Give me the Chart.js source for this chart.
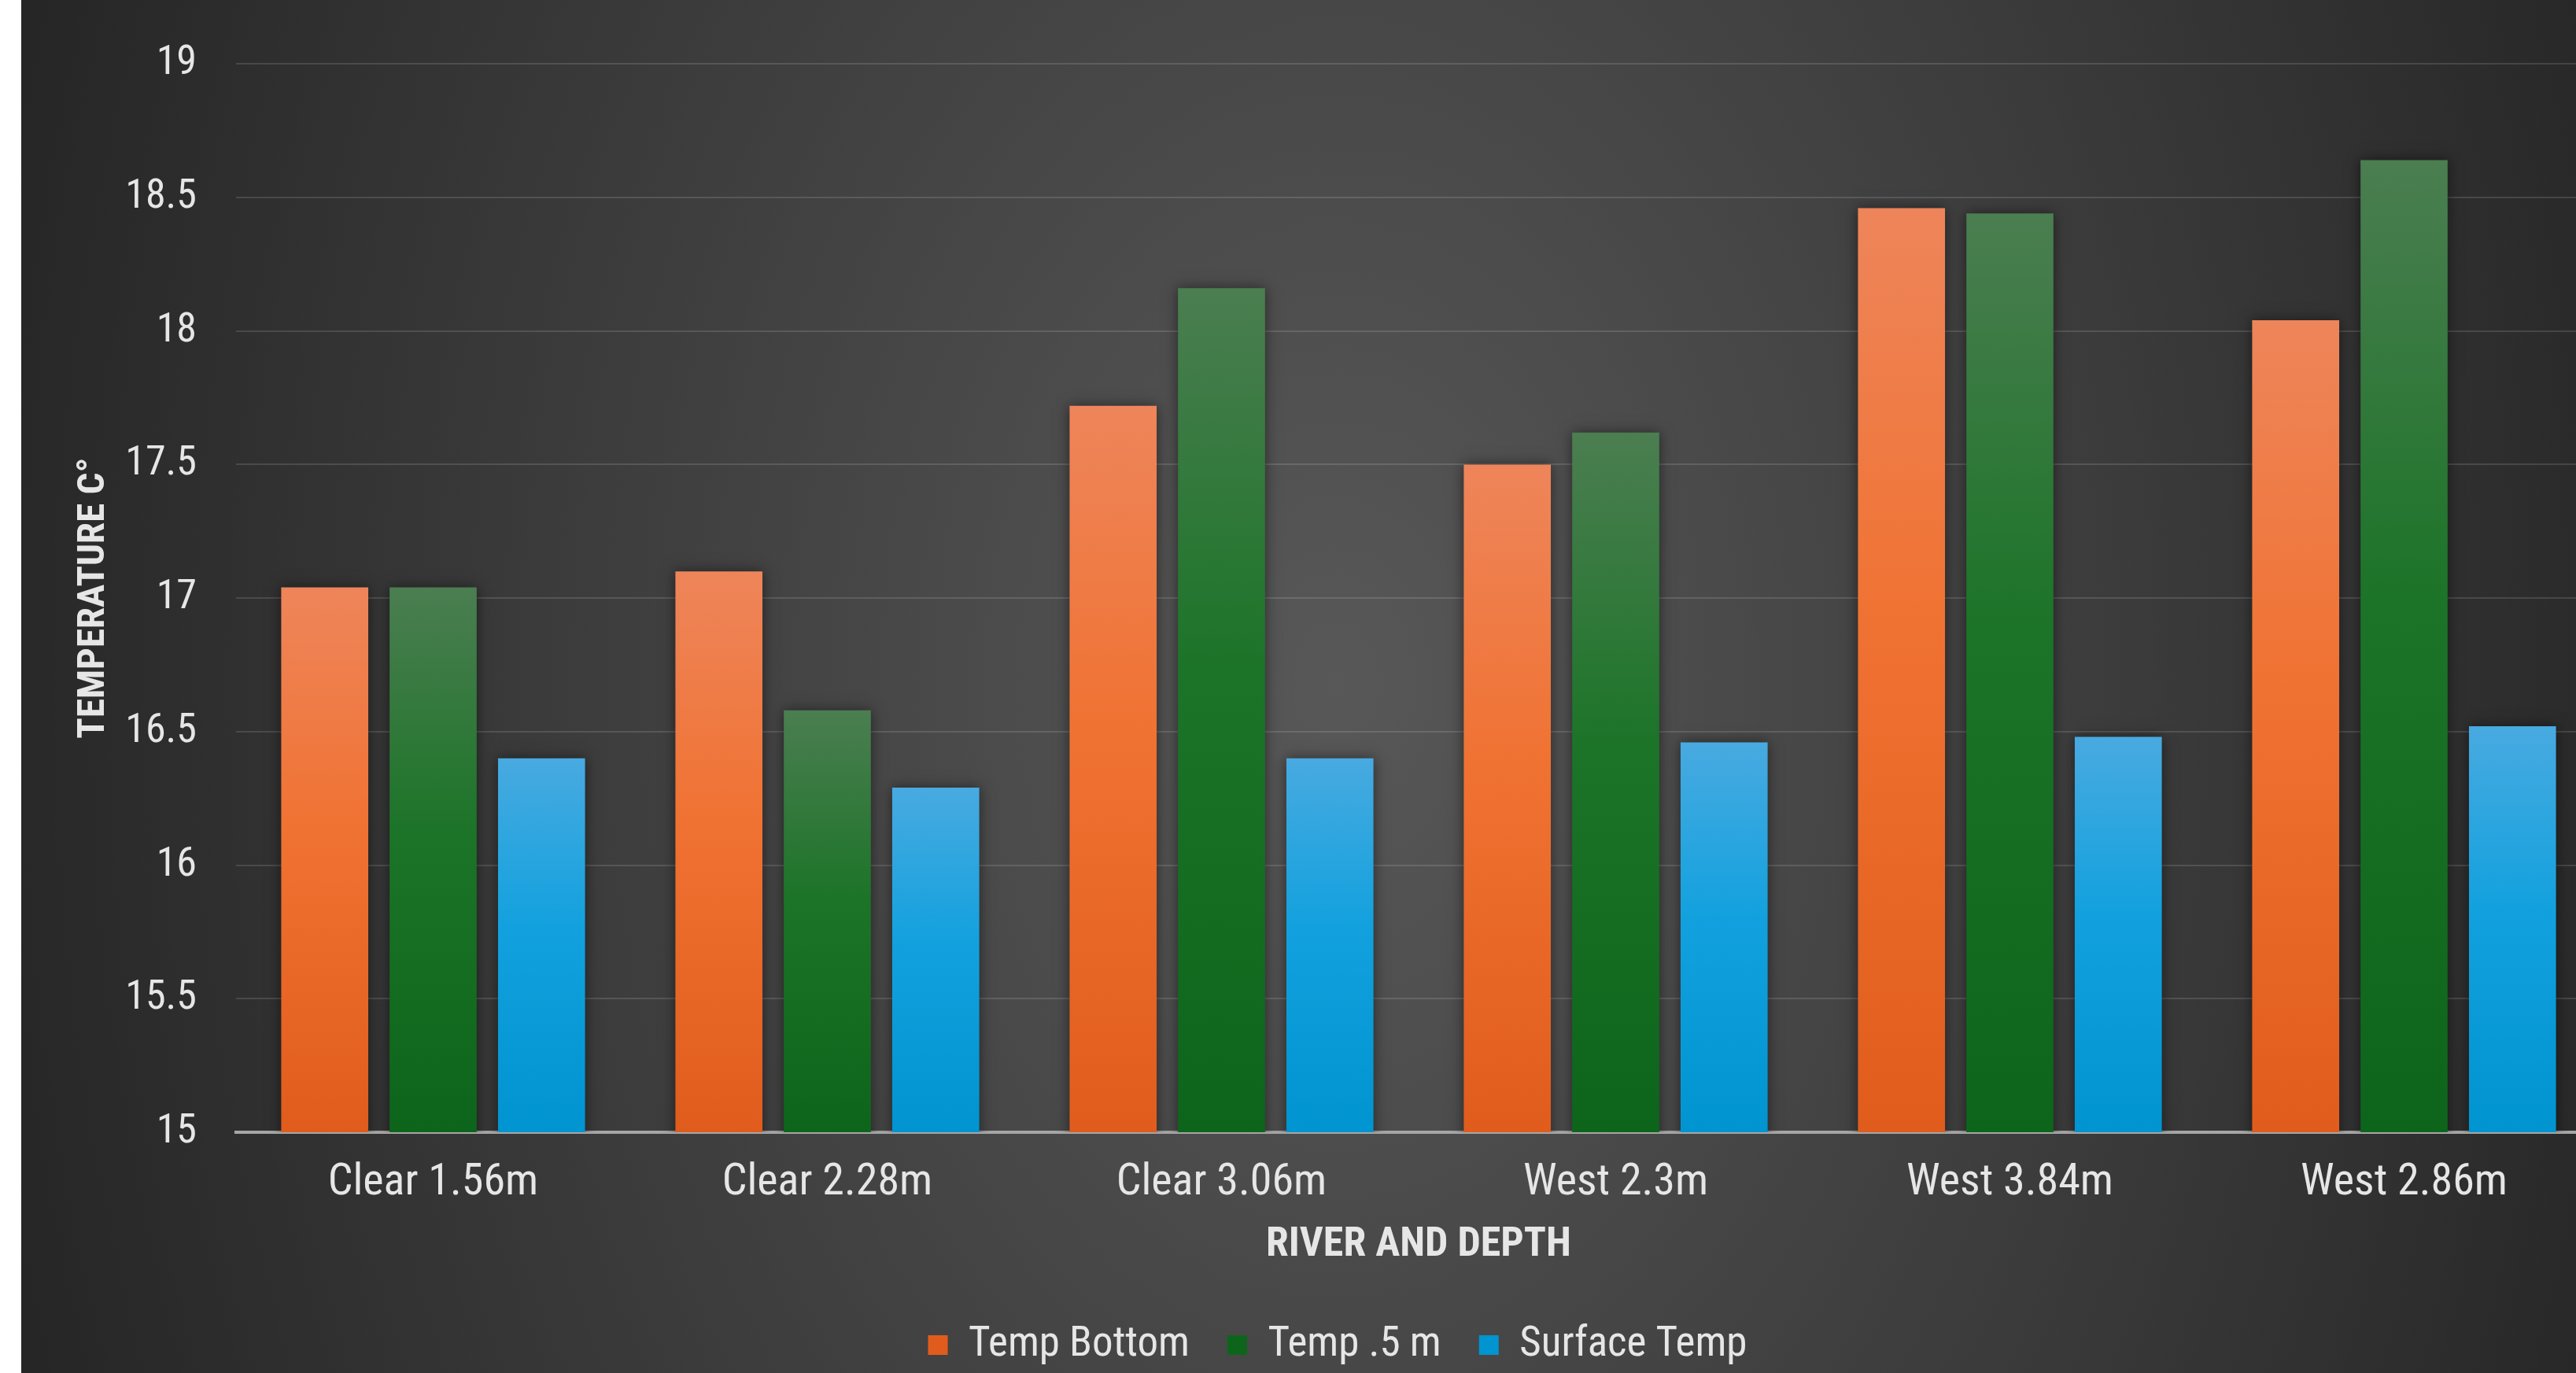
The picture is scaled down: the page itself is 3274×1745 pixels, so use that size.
<!DOCTYPE html>
<html>
<head>
<meta charset="utf-8">
<script src="https://cdn.jsdelivr.net/npm/chart.js@4.4.1/dist/chart.umd.min.js"></script>
<style>
  html, body { margin: 0; padding: 0; background: #ffffff; overflow: hidden; }
  #wrap {
    position: absolute; left: 27px; top: 0;
    width: 3346px; height: 1745px;
    background: radial-gradient(1750px 2550px at 1673px 870px, #585858 0%, #262626 100%);
  }
</style>
</head>
<body>
<div id="wrap"><canvas id="myChart" width="3346" height="1745"></canvas></div>
<script>
var categories = ['Clear 1.56m', 'Clear 2.28m', 'Clear 3.06m', 'West 2.3m', 'West 3.84m', 'West 2.86m'];
var tempBottom = [17.04, 17.1, 17.72, 17.5, 18.46, 18.04];
var tempHalfMeter = [17.04, 16.58, 18.16, 17.62, 18.44, 18.64];
var surfaceTemp = [16.4, 16.29, 16.4, 16.46, 16.48, 16.52];
var seriesNames = ['Temp Bottom', 'Temp .5 m', 'Surface Temp'];

var yMin = 15, yMax = 19, yStep = 0.5;

var narrow = "'Liberation Sans Narrow', 'Roboto Condensed', 'DejaVu Sans Condensed', sans-serif";
Chart.defaults.font.family = narrow;
Chart.defaults.color = '#D9D9D9';

// top colour, middle colour, bottom colour of each series
var orangeStops = ['#EE855A', '#F07232', '#E05C1C'];
var greenStops = ['#4B7E51', '#1C7428', '#0D651B'];
var blueStops = ['#48AAE0', '#12A1DE', '#0094D0'];

function barFill (stops) {
    return function (context) {
        var chart = context.chart;
        var area = chart.chartArea;
        if (!area || context.type !== 'data') return stops[1];
        var top = chart.scales.y.getPixelForValue(context.parsed.y);
        var g = chart.ctx.createLinearGradient(0, top, 0, area.bottom);
        g.addColorStop(0, stops[0]);
        g.addColorStop(0.45, stops[1]);
        g.addColorStop(1, stops[2]);
        return g;
    };
}

var barShadow = {
    id: 'barShadow',
    beforeDatasetsDraw: function (chart) {
        var ctx = chart.ctx;
        ctx.save();
        ctx.shadowColor = 'rgba(0,0,0,0.5)';
        ctx.shadowBlur = 16;
        ctx.shadowOffsetX = 0;
        ctx.shadowOffsetY = 0;
    },
    afterDatasetsDraw: function (chart) {
        chart.ctx.restore();
    }
};

function makeSet (label, values, stops) {
    return {
        label: label,
        data: values,
        backgroundColor: barFill(stops),
        borderWidth: 0,
        categoryPercentage: 0.825,
        barPercentage: 0.803
    };
}

var config = {
    type: 'bar',
    data: {
        labels: categories,
        datasets: [
            makeSet(seriesNames[0], tempBottom, orangeStops),
            makeSet(seriesNames[1], tempHalfMeter, greenStops),
            makeSet(seriesNames[2], surfaceTemp, blueStops)
        ]
    },
    plugins: [barShadow],
    options: {
        responsive: false,
        animation: false,
        layout: { padding: { left: 67, right: 67, top: 79, bottom: -1 } },
        plugins: {
            tooltip: { enabled: false },
            legend: {
                position: 'bottom',
                labels: {
                    font: { size: 53 },
                    color: '#E6E6E6',
                    boxWidth: 25,
                    boxHeight: 25,
                    padding: 48
                }
            }
        },
        scales: {
            x: {
                afterFit: function (scale) { scale.height = 196; },
                grid: { display: false, drawTicks: false },
                border: { display: true, color: '#A6A6A6', width: 4 },
                ticks: { font: { size: 56 }, color: '#E6E6E6', padding: 31 },
                title: {
                    display: true,
                    text: 'RIVER AND DEPTH',
                    color: '#E6E6E6',
                    font: { size: 52, weight: 'bold' },
                    padding: { top: 0, bottom: 21 }
                }
            },
            y: {
                min: yMin,
                max: yMax,
                afterFit: function (scale) { scale.width = 206; },
                grid: { color: 'rgba(255,255,255,0.13)', lineWidth: 2, drawTicks: false },
                border: { display: false },
                ticks: {
                    stepSize: yStep,
                    font: { size: 52 },
                    color: '#E6E6E6',
                    padding: 50,
                    callback: function (value) { return String(value); }
                },
                title: {
                    display: true,
                    text: 'TEMPERATURE C°',
                    color: '#E6E6E6',
                    font: { size: 49, weight: 'bold', lineHeight: 1 },
                    padding: { top: 1, bottom: 0 }
                }
            }
        }
    }
};

window.myChart = new Chart(document.getElementById('myChart').getContext('2d'), config);
</script>
</body>
</html>
